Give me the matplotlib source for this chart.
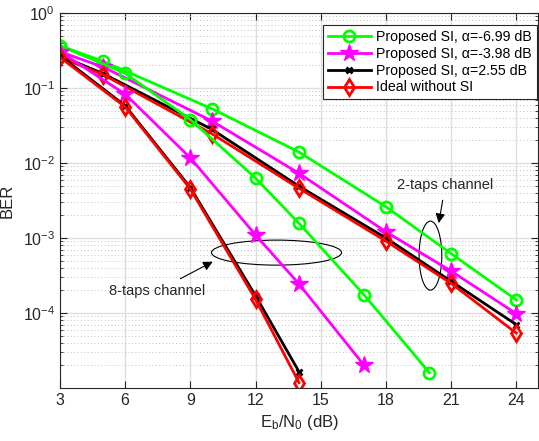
import numpy as np
import matplotlib
matplotlib.use('Agg')
from matplotlib import pyplot as plt
from matplotlib.patches import Ellipse

plt.rcParams['font.family'] = ['Liberation Sans', 'DejaVu Sans']
plt.rcParams['mathtext.fontset'] = 'custom'
plt.rcParams['mathtext.rm'] = 'Liberation Sans'
plt.rcParams['mathtext.it'] = 'Liberation Sans:italic'

# 2-taps channel
x2 = [3, 5, 10, 14, 18, 21, 24]
green2 = [0.366, 0.226, 0.0528, 0.0140, 2.61e-3, 6.2e-4, 1.50e-4]
mag2 = [0.305, 0.19, 0.0362, 7.3e-3, 1.21e-3, 3.63e-4, 9.8e-5]
black2 = [0.27, 0.155, 0.028, 4.9e-3, 1.0e-3, 2.65e-4, 7.0e-5]
red2 = [0.257, 0.150, 0.0245, 4.6e-3, 9.1e-4, 2.49e-4, 5.4e-5]

# 8-taps channel
xg8 = [3, 6, 9, 12, 14, 17, 20]
green8 = [0.366, 0.157, 0.038, 6.3e-3, 1.57e-3, 1.74e-4, 1.6e-5]
xm8 = [3, 6, 9, 12, 14, 17]
mag8 = [0.305, 0.083, 0.0117, 1.1e-3, 2.44e-4, 2.0e-5]
xr8 = [3, 6, 9, 12, 14]
black8 = [0.27, 0.058, 4.7e-3, 1.7e-4, 1.65e-5]
red8 = [0.257, 0.056, 4.5e-3, 1.52e-4, 1.18e-5]

labels = ['Proposed SI, \u03b1=-6.99 dB', 'Proposed SI, \u03b1=-3.98 dB',
          'Proposed SI, \u03b1=2.55 dB', 'Ideal without SI']

fig = plt.figure(figsize=(5.39, 4.41), dpi=100)
ax = fig.add_axes([0.1113, 0.1202, 0.8868, 0.8503])

lw = 2.0
g = dict(color='#00ff00', marker='o', ms=8, mfc='none', mew=2, lw=lw)
m = dict(color='#ff00ff', marker='*', ms=13, lw=lw)
k = dict(color='k', marker='x', ms=5, mew=2, lw=lw)
r = dict(color='#ff0000', marker='d', ms=8, mfc='none', mew=2, lw=lw)

ax.semilogy(x2, green2, label=labels[0], **g)
ax.semilogy(x2, mag2, label=labels[1], **m)
ax.semilogy(x2, black2, label=labels[2], **k)
ax.semilogy(x2, red2, label=labels[3], **r)
ax.semilogy(xg8, green8, **g)
ax.semilogy(xm8, mag8, **m)
ax.semilogy(xr8, black8, **k)
ax.semilogy(xr8, red8, **r)

ax.set_xlim(3, 25)
ax.set_ylim(1e-5, 1)
ax.set_xticks([3, 6, 9, 12, 15, 18, 21, 24])
ax.set_yticks([1e-4, 1e-3, 1e-2, 1e-1, 1e0])
ax.tick_params(which='both', direction='in', top=True, right=True,
               labelsize=11.5, colors='#262626')
ax.tick_params(which='major', length=5)
ax.tick_params(which='minor', length=2.5)
ax.tick_params(axis='x', which='minor', bottom=False, top=False)
for s in ax.spines.values():
    s.set_color('#262626')
    s.set_linewidth(0.8)

ax.grid(True, which='major', color='#dedede', lw=1.0, ls='-')
ax.grid(True, which='minor', axis='y', color='#c0c0c0', lw=0.7, ls=(0, (1, 2.5)))
ax.set_axisbelow(True)

ax.set_xlabel(r'E$_\mathrm{b}$/N$_\mathrm{0}$ (dB)', fontsize=12, color='#262626')
ax.set_ylabel('BER', fontsize=12, color='#262626', labelpad=6)

leg = ax.legend(loc='upper right', bbox_to_anchor=(0.998, 0.968), borderaxespad=0,
                fontsize=10.2, fancybox=False, framealpha=1, edgecolor='#262626',
                handlelength=3.0, borderpad=0.35, labelspacing=0.2, handletextpad=0.4)
leg.get_frame().set_linewidth(0.8)

ax.add_patch(Ellipse((0.453, 0.361), 0.272, 0.0667, transform=ax.transAxes,
                     fill=False, ec='k', lw=0.8))
ax.add_patch(Ellipse((0.775, 0.353), 0.0475, 0.184, transform=ax.transAxes,
                     fill=False, ec='k', lw=0.8))

arr = dict(arrowstyle='-|>', color='k', lw=0.8, shrinkA=4, shrinkB=0, mutation_scale=14)
ax.annotate('2-taps channel', xy=(20.43, 1.58e-3), xytext=(20.74, 5.09e-3),
            ha='center', va='center', fontsize=10.5, color='#262626', arrowprops=arr)
ax.annotate('8-taps channel', xy=(10.03, 4.83e-4), xytext=(7.46, 1.96e-4),
            ha='center', va='center', fontsize=10.5, color='#262626', arrowprops=arr)

plt.savefig('out.png', dpi=100)
